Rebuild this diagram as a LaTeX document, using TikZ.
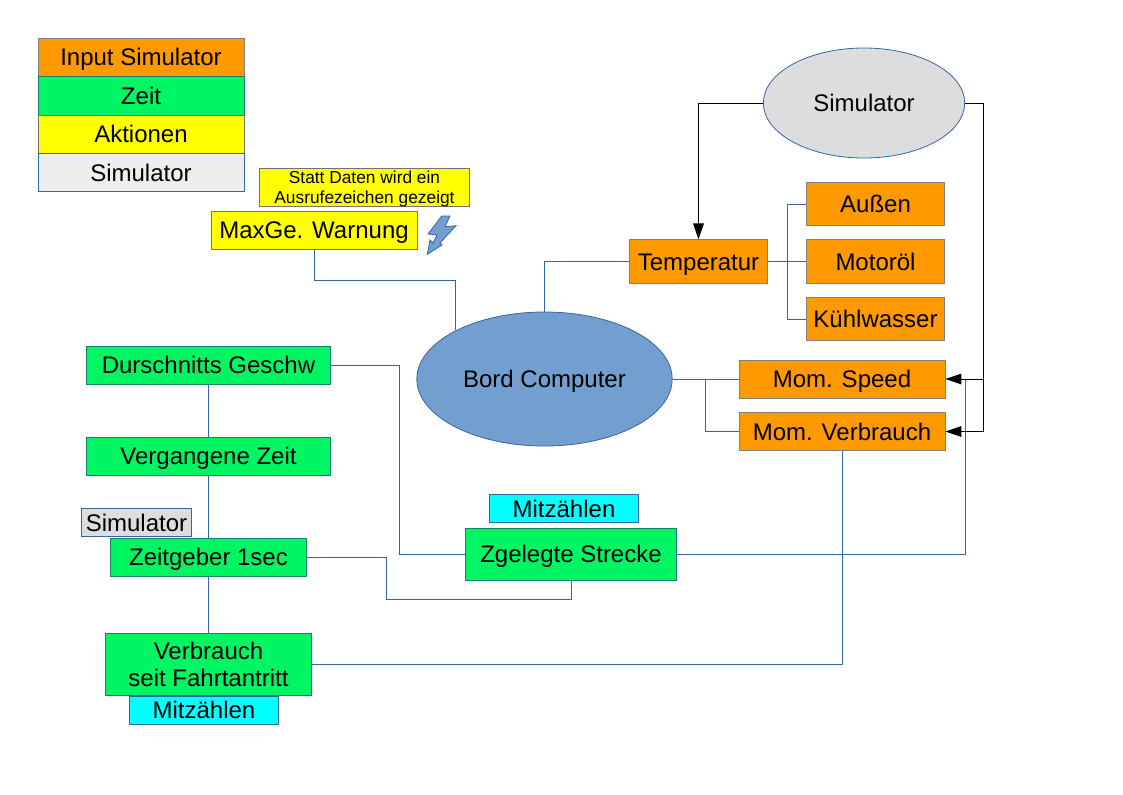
\documentclass[tikz,border=0pt]{standalone}
\usepackage{fontspec}
\setmainfont{Liberation Sans}
\usetikzlibrary{arrows.meta}
\usetikzlibrary{shapes.geometric}
\definecolor{linieblau}{HTML}{3465A4}
\definecolor{inputfarbe}{HTML}{FF9900}
\definecolor{zeitfarbe}{HTML}{00F562}
\definecolor{aktionfarbe}{HTML}{FFFF00}
\definecolor{simfarbe}{HTML}{DDDDDD}
\definecolor{legendesim}{HTML}{EEEEEE}
\definecolor{zaehlfarbe}{HTML}{00FFFF}
\definecolor{bordfarbe}{HTML}{729FCF}
\tikzset{
    block/.style={draw=linieblau, line width=0.6pt, inner sep=0pt, align=center, text height=13pt, text depth=0pt, font=\fontsize{18}{20.5}\selectfont},
    inputbox/.style={block, draw=gray, fill=inputfarbe},
    zeitbox/.style={block, draw=linieblau!60!zeitfarbe!80!black, fill=zeitfarbe},
    aktionbox/.style={block, draw=gray!90!black, fill=aktionfarbe},
    simbox/.style={block, fill=simfarbe},
    zaehlbox/.style={block, fill=zaehlfarbe},
    wolke/.style={block, ellipse},
    verbindung/.style={draw=linieblau, line width=0.6pt},
    steuerung/.style={draw=black, line width=0.75pt},
    pfeil/.style={-{Triangle[length=12pt, width=8pt]}}
}
\begin{document}
\begin{tikzpicture}[x=0.75pt, y=-0.75pt]
    \useasboundingbox (0,0) rectangle (1123,794);

    \node[inputbox, minimum width=154.5pt, minimum height=28.5pt] (legInput) at (141,57) {Input Simulator};
    \node[zeitbox, minimum width=154.5pt, minimum height=29pt] (legZeit) at (141,96) {Zeit};
    \node[aktionbox, minimum width=154.5pt, minimum height=28.5pt] (legAktion) at (141,134) {Aktionen};
    \node[block, fill=legendesim, minimum width=154.5pt, minimum height=28.5pt] (legSim) at (141,172.5) {Simulator};

    \node[aktionbox, text height=24.4pt, font=\fontsize{13}{15}\selectfont, minimum width=158pt, minimum height=28.5pt] (hinweis) at (364.5,187) {Statt Daten wird ein\\Ausrufezeichen gezeigt};
    \node[aktionbox, minimum width=154.5pt, minimum height=28.5pt] (warnung) at (314,230) {MaxGe. Warnung};

    \node[wolke, fill=simfarbe, minimum width=151pt, minimum height=82.5pt] (sim) at (864,103) {Simulator};
    \node[wolke, fill=bordfarbe, minimum width=191.5pt, minimum height=100.5pt] (bord) at (544.5,379) {Bord Computer};

    \node[inputbox, minimum width=104pt, minimum height=32.5pt] (temp) at (698.5,261.5) {Temperatur};
    \node[inputbox, minimum width=104pt, minimum height=32.5pt] (aussen) at (875.5,204) {Außen};
    \node[inputbox, minimum width=104pt, minimum height=32.5pt] (motor) at (875.5,261.5) {Motoröl};
    \node[inputbox, minimum width=104pt, minimum height=32.5pt] (kuehl) at (875.5,319) {Kühlwasser};
    \node[inputbox, minimum width=154.5pt, minimum height=28.5pt] (speed) at (842,379) {Mom. Speed};
    \node[inputbox, minimum width=154.5pt, minimum height=29pt] (momverb) at (842,431.5) {Mom. Verbrauch};

    \node[zeitbox, minimum width=183.5pt, minimum height=28.5pt] (schnitt) at (208.5,365) {Durschnitts Geschw};
    \node[zeitbox, minimum width=183.5pt, minimum height=28.5pt] (vergangen) at (208.5,456) {Vergangene Zeit};
    \node[simbox, minimum width=83pt, minimum height=21.5pt] (simklein) at (136.5,522.5) {Simulator};
    \node[zeitbox, minimum width=147.5pt, minimum height=28.5pt] (zeitgeber) at (208.5,557) {Zeitgeber 1sec};
    \node[zeitbox, text height=33.5pt, minimum width=155pt, minimum height=47pt] (verbrauch) at (208.5,664.5) {Verbrauch\\seit Fahrtantritt};
    \node[zaehlbox, minimum width=111.5pt, minimum height=21pt] (zaehlunten) at (204,710) {Mitzählen};
    \node[zaehlbox, minimum width=111.5pt, minimum height=21.5pt] (zaehloben) at (564,508.5) {Mitzählen};
    \node[zeitbox, minimum width=158pt, minimum height=39pt] (strecke) at (571,554) {Zgelegte Strecke};

    \coordinate (warnknick) at (455,280);
    \coordinate (tempbus) at (787,262);
    \coordinate (bordbus) at (705,379);
    \coordinate (simrechts) at (983,103);
    \coordinate (speedknoten) at (983,379);
    \coordinate (verbknoten) at (983,431.5);
    \coordinate (streckeknoten) at (965,379);
    \coordinate (schnittknick) at (399,365);
    \coordinate (zeitknick) at (386,599);

    \draw[verbindung] (warnung.south) |- (warnknick) -- (warnknick |- bord.151.7);
    \draw[verbindung] (bord.north) |- (temp.west);
    \draw[verbindung] (temp.east) -- (motor.west);
    \draw[verbindung] (aussen.west) -| (tempbus) |- (kuehl.west);
    \draw[verbindung] (bord.east) -- (speed.west);
    \draw[verbindung] (bordbus) |- (momverb.west);
    \draw[verbindung] (momverb.south) |- (verbrauch.east);
    \draw[verbindung] (strecke.east) -| (streckeknoten);
    \draw[verbindung] (schnitt.east) -- (schnittknick) |- (strecke.west);
    \draw[verbindung] (zeitgeber.east) -| (zeitknick) -| (strecke.south);
    \draw[verbindung] (schnitt.south) -- (vergangen.north);
    \draw[verbindung] (vergangen.south) -- (zeitgeber.north);
    \draw[verbindung] (zeitgeber.south) -- (verbrauch.north);

    \draw[steuerung, pfeil] (sim.west) -| (temp.north);
    \draw[steuerung] (sim.east) -- (simrechts) -- (verbknoten);
    \draw[steuerung, pfeil] (speedknoten) -- (speed.east);
    \draw[steuerung, pfeil] (verbknoten) -- (momverb.east);

    \draw[verbindung, fill=bordfarbe] (441.7,216) -- (450,216) -- (445,226.7) -- (456,225.7) -- (440,243) -- (442,245) -- (427.3,254.3) -- (430,240) -- (433,243) -- (437,235) -- (428,234) -- cycle;
\end{tikzpicture}
\end{document}
